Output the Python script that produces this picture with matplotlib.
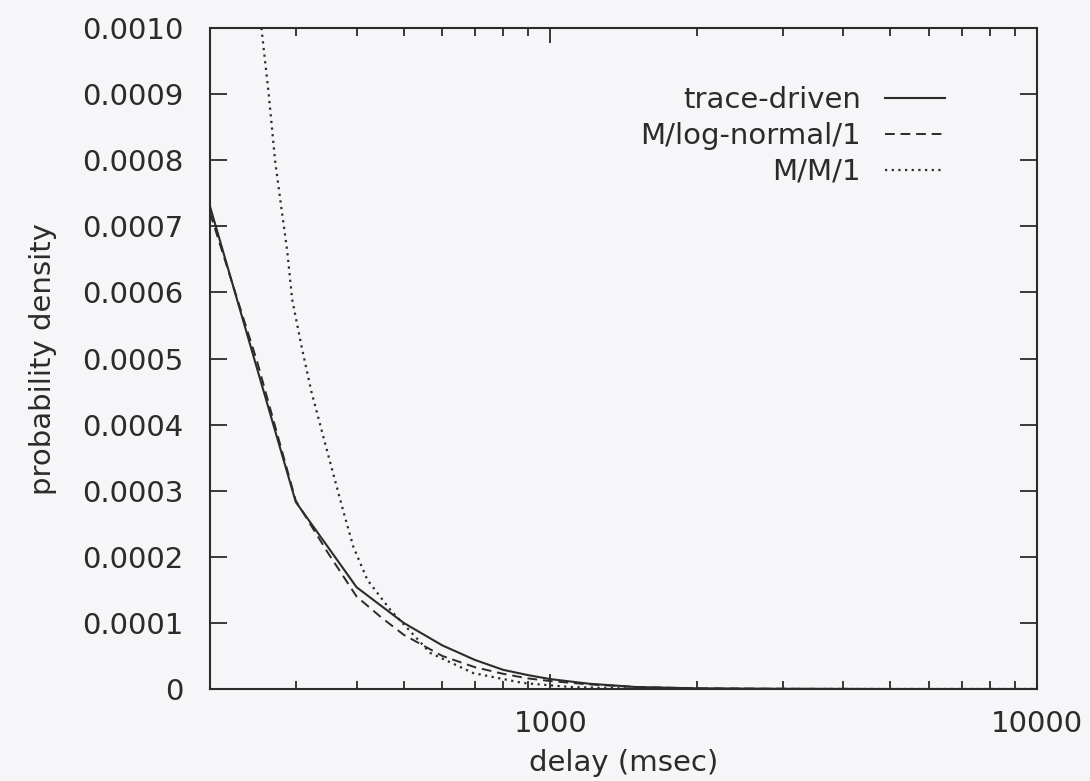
import numpy as np
import matplotlib
matplotlib.use("Agg")
import matplotlib.pyplot as plt
from matplotlib.ticker import NullFormatter, FixedLocator, FixedFormatter

# delay (msec) and probability density for each model
traceDelay = [200, 300, 400, 500, 600, 700, 800, 900, 1000, 1200, 1500, 2000, 3000, 5000, 10000]
traceDens = [0.00073, 0.000283, 0.000154, 0.000100, 0.000066, 0.000044, 0.000029,
             0.000021, 0.000015, 0.000008, 0.000003, 0.000001, 0.0000003, 0.0, 0.0]

lognDelay = [200, 250, 300, 350, 400, 450, 500, 600, 700, 800, 900, 1000, 1200, 1500, 2000, 3000, 5000, 10000]
lognDens = [0.000720, 0.000495, 0.000285, 0.000205, 0.000140, 0.000108, 0.000082, 0.000050,
            0.000033, 0.000023, 0.000016, 0.000012, 0.000007, 0.000003, 0.000001, 0.0000003, 0.0, 0.0]

mm1Delay = [255, 264, 272, 280, 288, 295, 309, 323, 348, 376, 394, 421, 469, 567, 695, 881,
            1100, 1500, 2500, 10000]
mm1Dens = [0.001, 0.0009, 0.0008, 0.00073, 0.000664, 0.000589, 0.000515, 0.00045, 0.00036,
           0.000268, 0.000215, 0.000165, 0.00012, 0.0000545, 0.000024, 0.000009, 0.000003,
           0.0000005, 0.0, 0.0]

yTicks = [0, 0.0001, 0.0002, 0.0003, 0.0004, 0.0005, 0.0006, 0.0007, 0.0008, 0.0009, 0.0010]
yTickLabels = ['0', '0.0001', '0.0002', '0.0003', '0.0004', '0.0005',
               '0.0006', '0.0007', '0.0008', '0.0009', '0.0010']

ink = '#2b2b2b'
plt.rcParams['font.family'] = ['DejaVu Sans']
plt.rcParams['font.size'] = 21

fig = plt.figure(figsize=(10.9, 7.81), dpi=100, facecolor='#f6f5f7')
ax = fig.add_axes([0.1927, 0.1178, 0.7587, 0.8463])
ax.set_facecolor('#f6f5f7')

ax.plot(traceDelay, traceDens, color=ink, lw=1.5, label='trace-driven')
ax.plot(lognDelay, lognDens, color=ink, lw=1.4, linestyle=(0, (5, 3)), label='M/log-normal/1')
ax.plot(mm1Delay, mm1Dens, color=ink, lw=1.6, linestyle=(0, (1, 2)), label='M/M/1')

ax.set_xscale('log')
ax.set_xlim(200, 10000)
ax.set_ylim(0, 0.001)
ax.xaxis.set_major_locator(FixedLocator([1000, 10000]))
ax.xaxis.set_major_formatter(FixedFormatter(['1000', '10000']))
ax.xaxis.set_minor_formatter(NullFormatter())
ax.yaxis.set_major_locator(FixedLocator(yTicks))
ax.yaxis.set_major_formatter(FixedFormatter(yTickLabels))

ax.tick_params(which='both', direction='in', top=True, right=True, colors=ink, width=1.3)
ax.tick_params(axis='y', which='major', length=12, pad=19)
ax.tick_params(axis='x', which='major', length=11, pad=15)
ax.tick_params(axis='x', which='minor', length=6)
for s in ax.spines.values():
    s.set_color(ink)
    s.set_linewidth(1.5)

ax.set_xlabel('delay (msec)', color=ink, labelpad=8)
ax.set_ylabel('probability density', color=ink, labelpad=18)

leg = ax.legend(loc='upper right', bbox_to_anchor=(0.889, 0.912), markerfirst=False,
                frameon=False, borderpad=0, borderaxespad=0, handlelength=2.05,
                handletextpad=0.85, labelspacing=0.27)
for t in leg.get_texts():
    t.set_color(ink)

plt.savefig('out.png', dpi=100, facecolor=fig.get_facecolor())
